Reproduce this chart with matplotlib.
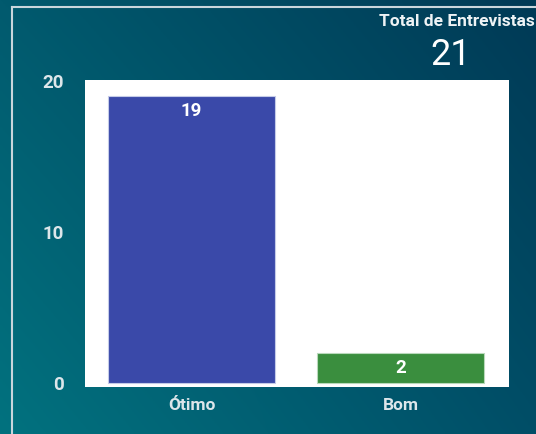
import matplotlib
matplotlib.use("Agg")
import matplotlib.pyplot as plt  # biblioteca para plotagem
import numpy as np
from matplotlib.colors import to_rgb
from matplotlib.lines import Line2D

# Dados do gráfico
categorias = ["Ótimo", "Bom"]
valores = [19, 2]
cores = ["#3a49a9", "#3a8e3e"]
bordas = ["#c5cbe8", "#b9d9bb"]
yticks = [0, 10, 20]
total_titulo = "Total de Entrevistas"
total_valor = "21"

plt.rcParams["font.family"] = ["Roboto", "DejaVu Sans"]

fig = plt.figure(figsize=(5.36, 4.34), dpi=100)

# Fundo em gradiente bilinear (cantos: sup-esq, sup-dir, inf-esq, inf-dir)
fundo = fig.add_axes([0, 0, 1, 1], zorder=0)
c_se = np.array(to_rgb("#015a6e"))
c_sd = np.array(to_rgb("#003a56"))
c_ie = np.array(to_rgb("#02727f"))
c_id = np.array(to_rgb("#004e67"))
u = np.linspace(0, 1, 200)[None, :, None]
v = np.linspace(0, 1, 200)[:, None, None]
img = (c_se * (1 - u) * (1 - v) + c_sd * u * (1 - v)
       + c_ie * (1 - u) * v + c_id * u * v)
fundo.imshow(img, aspect="auto", extent=[0, 1, 0, 1], origin="upper")
fundo.set_xlim(0, 1)
fundo.set_ylim(0, 1)
fundo.axis("off")

# Moldura clara
fig.add_artist(Line2D([12 / 536, 12 / 536], [0, 1 - 7 / 434], transform=fig.transFigure,
                      color="#c9d6dc", linewidth=1.5))
fig.add_artist(Line2D([12 / 536, 1], [1 - 7 / 434, 1 - 7 / 434], transform=fig.transFigure,
                      color="#c9d6dc", linewidth=1.5))

# Eixo principal
ax = fig.add_axes([85 / 536, 1 - 387 / 434, 424 / 536, 307 / 434], zorder=1)
ax.set_facecolor("white")
x = np.arange(len(categorias))
barras = ax.bar(x, valores, width=0.8, color=cores, edgecolor=bordas, linewidth=0.8)
for b, v in zip(barras, valores):
    ax.text(b.get_x() + b.get_width() / 2, v - 0.4, str(v), ha="center", va="top",
            color="white", fontsize=13.5, fontweight="bold")

ax.set_xlim(-0.51, 1.52)
ax.set_ylim(-0.27, 20.07)
ax.set_yticks(yticks)
ax.set_xticks(x)
ax.set_xticklabels(categorias)
ax.tick_params(axis="both", length=0, colors="#dde6ea")
ax.tick_params(axis="y", pad=15, labelsize=13.5)
ax.tick_params(axis="x", pad=8, labelsize=12.5)
for lbl in ax.get_yticklabels() + ax.get_xticklabels():
    lbl.set_fontweight("bold")
for s in ax.spines.values():
    s.set_visible(False)

# Total de entrevistas
fig.text(457 / 536, 1 - 22 / 434, total_titulo, ha="center", va="center",
         color="#eef3f5", fontsize=12.5, fontweight="bold")
fig.text(451 / 536, 1 - 55 / 434, total_valor, ha="center", va="center",
         color="white", fontsize=26)

fig.savefig("out.png", dpi=100)
plt.close(fig)
